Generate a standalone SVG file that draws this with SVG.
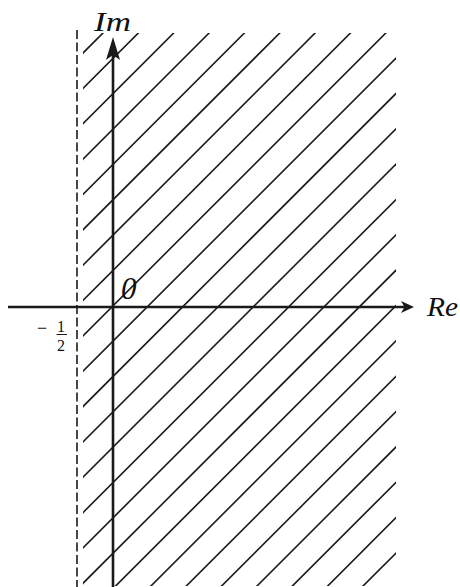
<svg xmlns="http://www.w3.org/2000/svg" width="460" height="587" viewBox="0 0 460 587">
<style>
.hatch{stroke:#1a1a1a;stroke-width:1.6;fill:none}
.axis{stroke:#1a1a1a;stroke-width:2.6;fill:none}
.dash{stroke:#1a1a1a;stroke-width:1.6;stroke-dasharray:9,3.5;fill:none}
.lbl{font-family:"Liberation Serif",serif;font-style:italic;fill:#111}
.num{font-family:"Liberation Serif",serif;fill:#111}
</style>
<defs>
<clipPath id="region"><rect x="83" y="33" width="313" height="553"/></clipPath>
</defs>
<rect width="460" height="587" fill="#fff"/>
<g id="hatching" clip-path="url(#region)">
<line class="hatch" x1="-464" y1="600" x2="136" y2="0"/>
<line class="hatch" x1="-428.65" y1="600" x2="171.35" y2="0"/>
<line class="hatch" x1="-393.3" y1="600" x2="206.7" y2="0"/>
<line class="hatch" x1="-357.95" y1="600" x2="242.05" y2="0"/>
<line class="hatch" x1="-322.6" y1="600" x2="277.4" y2="0"/>
<line class="hatch" x1="-287.25" y1="600" x2="312.75" y2="0"/>
<line class="hatch" x1="-251.9" y1="600" x2="348.1" y2="0"/>
<line class="hatch" x1="-216.55" y1="600" x2="383.45" y2="0"/>
<line class="hatch" x1="-181.2" y1="600" x2="418.8" y2="0"/>
<line class="hatch" x1="-145.85" y1="600" x2="454.15" y2="0"/>
<line class="hatch" x1="-110.5" y1="600" x2="489.5" y2="0"/>
<line class="hatch" x1="-75.15" y1="600" x2="524.85" y2="0"/>
<line class="hatch" x1="-39.8" y1="600" x2="560.2" y2="0"/>
<line class="hatch" x1="-4.45" y1="600" x2="595.55" y2="0"/>
<line class="hatch" x1="30.9" y1="600" x2="630.9" y2="0"/>
<line class="hatch" x1="66.25" y1="600" x2="666.25" y2="0"/>
<line class="hatch" x1="101.6" y1="600" x2="701.6" y2="0"/>
<line class="hatch" x1="136.95" y1="600" x2="736.95" y2="0"/>
<line class="hatch" x1="172.3" y1="600" x2="772.3" y2="0"/>
<line class="hatch" x1="207.65" y1="600" x2="807.65" y2="0"/>
<line class="hatch" x1="243" y1="600" x2="843" y2="0"/>
<line class="hatch" x1="278.35" y1="600" x2="878.35" y2="0"/>
<line class="hatch" x1="313.7" y1="600" x2="913.7" y2="0"/>
<line class="hatch" x1="349.05" y1="600" x2="949.05" y2="0"/>
</g>
<g id="boundary">
<line class="dash" x1="77" y1="30" x2="77" y2="587"/>
</g>
<g id="axes">
<line class="axis" x1="8" y1="307" x2="407" y2="307"/>
<path d="M414,307 L401,301 L404.5,307 L401,313 Z" fill="#1a1a1a"/>
<line class="axis" x1="113" y1="587" x2="113" y2="50"/>
<path d="M113,37 L106,60 L113,55 L120,60 Z" fill="#1a1a1a"/>
</g>
<g id="labels">
<text class="lbl" x="94" y="31" font-size="28" textLength="37" lengthAdjust="spacingAndGlyphs">Im</text>
<text class="lbl" x="427" y="316" font-size="28" textLength="31" lengthAdjust="spacingAndGlyphs">Re</text>
<text class="lbl" x="121" y="299" font-size="31">0</text>
<text class="num" x="37" y="334" font-size="18">−</text>
<text class="num" x="57" y="332" font-size="16">1</text>
<line x1="56.5" y1="334.5" x2="67" y2="334.5" stroke="#1a1a1a" stroke-width="1"/>
<text class="num" x="57" y="351" font-size="16">2</text>
</g>
</svg>
